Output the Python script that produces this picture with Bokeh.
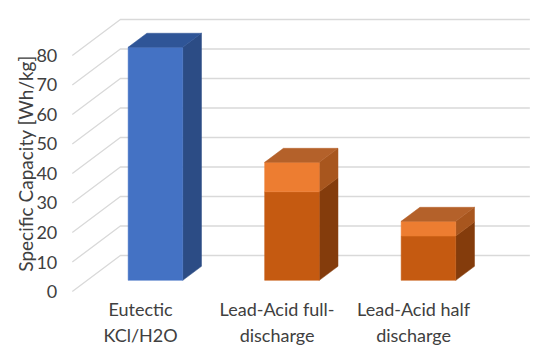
import math
from bokeh.plotting import figure
from bokeh.models import Range1d
from bokeh.core.properties import value
from bokeh.embed import file_html
from bokeh.resources import INLINE

# ---- data ----
categories = ["Eutectic KCl/H2O", "Lead-Acid full-discharge", "Lead-Acid half discharge"]
label_line1 = ["Eutectic", "Lead-Acid full-", "Lead-Acid half"]
label_line2 = ["KCl/H2O", "discharge", "discharge"]
series_base = [79, 30, 15]      # lower segment (blue for first, dark orange for lead-acid)
series_extra = [0, 10, 5]       # upper lighter segment
y_ticks = [0, 10, 20, 30, 40, 50, 60, 70, 80]
y_title = "Specific Capacity [Wh/kg]"

# ---- 3D projection geometry (oblique) ----
DDX, DDY = 0.352, 12.2          # full depth offset in data units
F_FRONT, F_BACK = 0.31, 0.70    # bar depth fraction
BAR_W = 0.4
X_LO, X_HI = -0.5, 2.5

FONT = "Lato"
TXT = "#404040"

p = figure(width=534, height=348, output_backend="svg", toolbar_location=None,
           x_range=Range1d(-1.026, 2.886), y_range=Range1d(-19.32, 98.64),
           min_border=0, min_border_left=0, min_border_right=0,
           min_border_top=0, min_border_bottom=0)
p.axis.visible = False
p.xgrid.visible = False
p.ygrid.visible = False
p.outline_line_color = None
p.background_fill_color = "white"
p.border_fill_color = "white"

# gridlines: left wall diagonal + back wall horizontal
xs, ys = [], []
for t in y_ticks:
    xs.append([X_LO, X_LO + DDX, X_HI + DDX])
    ys.append([t, t + DDY, t + DDY])
p.multi_line(xs, ys, line_color="#D9D9D9", line_width=1.3)

fx, fy = F_FRONT * DDX, F_FRONT * DDY
bdx, bdy = (F_BACK - F_FRONT) * DDX, (F_BACK - F_FRONT) * DDY

def draw_segment(i, y0, y1, front, side, top, draw_top):
    x0 = i - BAR_W / 2 + fx
    x1 = i + BAR_W / 2 + fx
    a, b = y0 + fy, y1 + fy
    p.patch([x1, x1 + bdx, x1 + bdx, x1], [a, a + bdy, b + bdy, b],
            fill_color=side, line_color=side, line_width=0.5)
    p.quad(left=x0, right=x1, bottom=a, top=b, fill_color=front, line_color=front, line_width=0.5)
    if draw_top:
        p.patch([x0, x1, x1 + bdx, x0 + bdx], [b, b, b + bdy, b + bdy],
                fill_color=top, line_color=top, line_width=0.5)

for i, cat in enumerate(categories):
    base = series_base[i]
    extra = series_extra[i]
    if i == 0:
        draw_segment(i, 0, base, "#4472C4", "#2C4C85", "#2F5597", True)
    else:
        draw_segment(i, 0, base, "#C55A11", "#843C0C", "#A04A10", extra == 0)
        if extra:
            draw_segment(i, base, base + extra, "#ED7D31", "#A8561E", "#B4612A", True)

# y tick labels
p.text(x=[X_LO] * len(y_ticks), y=y_ticks, text=[str(t) for t in y_ticks],
       x_offset=-15, text_align="right", text_baseline="middle",
       text_font=value(FONT), text_font_size="18px", text_color=TXT)

# category labels
idx = list(range(len(categories)))
p.text(x=idx, y=[0] * len(idx), text=label_line1, y_offset=17,
       text_align="center", text_baseline="middle",
       text_font=value(FONT), text_font_size="18px", text_color=TXT)
p.text(x=idx, y=[0] * len(idx), text=label_line2, y_offset=43,
       text_align="center", text_baseline="middle",
       text_font=value(FONT), text_font_size="18px", text_color=TXT)

# axis title
p.text(x=[X_LO], y=[43.4], text=[y_title], x_offset=-47, angle=math.pi / 2,
       text_align="center", text_baseline="middle",
       text_font=value(FONT), text_font_size="19px", text_color=TXT)

open("out.html", "w").write(file_html(p, INLINE))
